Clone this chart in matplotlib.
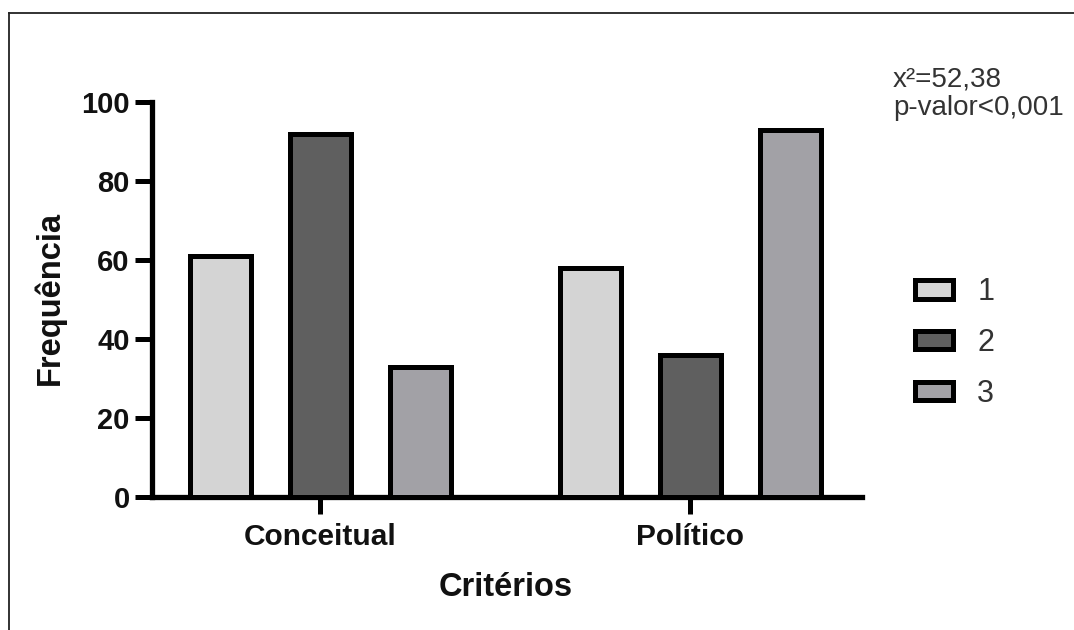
import numpy as np
import matplotlib
matplotlib.use('Agg')
import matplotlib.pyplot as plt
from matplotlib.lines import Line2D

categories = ['Conceitual', 'Político']
series_labels = ['1', '2', '3']
values_1 = [61, 58]
values_2 = [92, 36]
values_3 = [33, 93]
colors = ['#d4d4d4', '#5f5f5f', '#a2a1a6']
y_ticks = [0, 20, 40, 60, 80, 100]

plt.rcParams['font.family'] = ['Liberation Sans', 'DejaVu Sans']

W, H = 1074, 630
fig = plt.figure(figsize=(W / 100, H / 100), dpi=100)
ax = fig.add_axes([152 / W, 133 / H, 710 / W, 395 / H])

# bar positions in units of ~100 px
group_x = np.array([1.68, 5.38])
offsets = [-1.0, 0.0, 1.0]
for vals, off, col, lab in zip([values_1, values_2, values_3], offsets, colors, series_labels):
    ax.bar(group_x + off, vals, width=0.61, color=col, edgecolor='black',
           linewidth=3.6, label=lab, zorder=3)

ax.set_xlim(0, 7.10)
ax.set_ylim(0, 100)
ax.set_yticks(y_ticks)
ax.set_xticks(group_x)
ax.set_xticklabels(categories)

for s in ['top', 'right']:
    ax.spines[s].set_visible(False)
for s in ['left', 'bottom']:
    ax.spines[s].set_linewidth(3.8)
    ax.spines[s].set_color('black')

ax.tick_params(axis='both', length=12, width=3.6, color='black')
ax.tick_params(axis='y', pad=4, labelsize=21)
ax.tick_params(axis='x', pad=7, labelsize=21.5)
for lbl in ax.get_xticklabels() + ax.get_yticklabels():
    lbl.set_fontweight('bold')
    lbl.set_color('#111111')

fig.text(50 / W, 1 - 298 / H, 'Frequência', rotation=90, ha='center', va='center',
         fontsize=23.5, fontweight='bold', color='#111111')
fig.text(506 / W, 1 - 588 / H, 'Critérios', ha='center', va='center',
         fontsize=23.5, fontweight='bold', color='#111111')

leg = ax.legend(loc='center left', bbox_to_anchor=(914.5 / W, 1 - 343 / H),
                bbox_transform=fig.transFigure, frameon=False, fontsize=22,
                handlelength=1.25, handleheight=0.55, handletextpad=0.8,
                labelspacing=0.68, borderpad=0, borderaxespad=0,
                labelcolor='#333333')

fig.text(893 / W, 1 - 87 / H, 'x²=52,38', fontsize=20, color='#333333', va='baseline')
fig.text(893 / W, 1 - 115 / H, 'p-valor<0,001', fontsize=20, color='#333333', va='baseline')

# outer frame (top and left edges visible)
fig.add_artist(Line2D([9 / W, 1.0], [1 - 13 / H, 1 - 13 / H], transform=fig.transFigure,
                      color='#222222', linewidth=1.3))
fig.add_artist(Line2D([9 / W, 9 / W], [1 - 13 / H, 0.0], transform=fig.transFigure,
                      color='#222222', linewidth=1.3))

fig.savefig('out.png', dpi=100)
